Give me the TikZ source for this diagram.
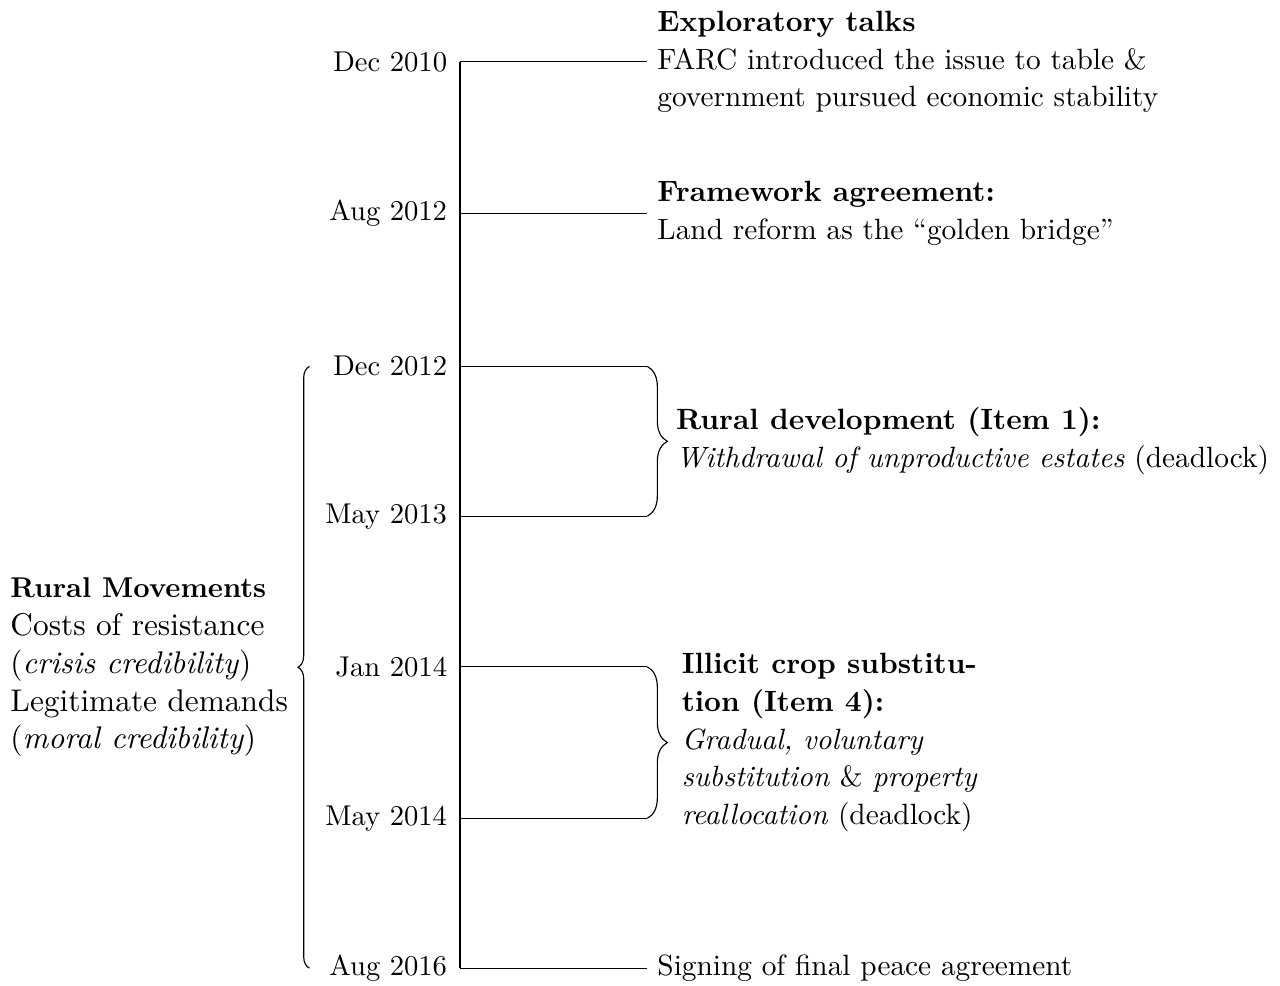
\documentclass[tikz,border=0pt]{standalone}
\usepackage{tikz}
\usetikzlibrary{positioning,calc,decorations.pathreplacing}
\linespread{1.1}

\begin{document}
\begin{tikzpicture}[
    date/.style={anchor=east, xshift=-1pt},
    event/.style={anchor=west, align=left, font=\fontsize{10.25}{12}\selectfont},
    brace right/.style={decorate, decoration={brace, amplitude=7pt}},
    brace left/.style={decorate, decoration={brace, amplitude=4pt, mirror}}
]
    \useasboundingbox (0,0) rectangle (15.72,12.10);

    % Timeline
    \coordinate (a) at (5.65,11.34);
    \coordinate (b) at (5.65,9.48);
    \coordinate (c) at (5.65,7.60);
    \coordinate (d) at (5.65,5.76);
    \coordinate (e) at (5.65,3.91);
    \coordinate (f) at (5.65,2.05);
    \coordinate (g) at (5.65,0.21);
    \draw[thick] (a) -- (g);

    % Dates
    \node[date] (da) at (a) {Dec 2010};
    \node[date] (db) at (b) {Aug 2012};
    \node[date] (dc) at (c) {Dec 2012};
    \node[date] (dd) at (d) {May 2013};
    \node[date] (de) at (e) {Jan 2014};
    \node[date] (df) at (f) {May 2014};
    \node[date] (dg) at (g) {Aug 2016};

    % Ticks
    \coordinate (a2) at (7.95,11.34);
    \coordinate (b2) at (7.95,9.48);
    \coordinate (c2) at (7.95,7.60);
    \coordinate (d2) at (7.95,5.76);
    \coordinate (e2) at (7.95,3.91);
    \coordinate (f2) at (7.95,2.05);
    \coordinate (g2) at (7.95,0.21);
    \foreach \p in {a,b,c,d,e,f,g}
        \draw (\p) -- (\p2);

    % Negotiation items
    \draw[brace right] (c2) -- (d2);
    \draw[brace right] (e2) -- (f2);
    \coordinate (cd) at ($(c2)!0.5!(d2)+(7pt,0)$);
    \coordinate (ef) at ($(e2)!0.5!(f2)+(7pt,0)$);

    % Events
    \node[event] (ea) at (a2) {\textbf{Exploratory talks}\\
        FARC introduced the issue to table \&\\
        government pursued economic stability};
    \node[event] (eb) at (b2) {\textbf{Framework agreement:}\\
        Land reform as the ``golden bridge''};
    \node[event, xshift=-0.5pt] (ecd) at (cd) {\textbf{Rural development (Item 1):}\\
        \textit{Withdrawal of unproductive estates} (deadlock)};
    \node[event, xshift=1.5pt] (eef) at (ef) {\textbf{Illicit crop substitu-}\\
        \textbf{tion (Item 4):}\\
        \textit{Gradual, voluntary}\\
        \textit{substitution} \& \textit{property}\\
        \textit{reallocation} (deadlock)};
    \node[event] (eg) at (g2) {Signing of final peace agreement};

    % Rural movements
    \coordinate (l1) at (3.80,7.60);
    \coordinate (l2) at (3.80,0.21);
    \draw[brace left] (l1) -- (l2);
    \coordinate (lm) at ($(l1)!0.5!(l2)+(-4pt,0)$);
    \node[anchor=east, align=left, font=\fontsize{10.95}{12}\selectfont] (rm) at (lm)
        {\textbf{\fontsize{10}{12}\selectfont Rural Movements}\\
        Costs of resistance\\
        (\textit{crisis credibility})\\
        Legitimate demands\\
        (\textit{moral credibility})};
\end{tikzpicture}
\end{document}
